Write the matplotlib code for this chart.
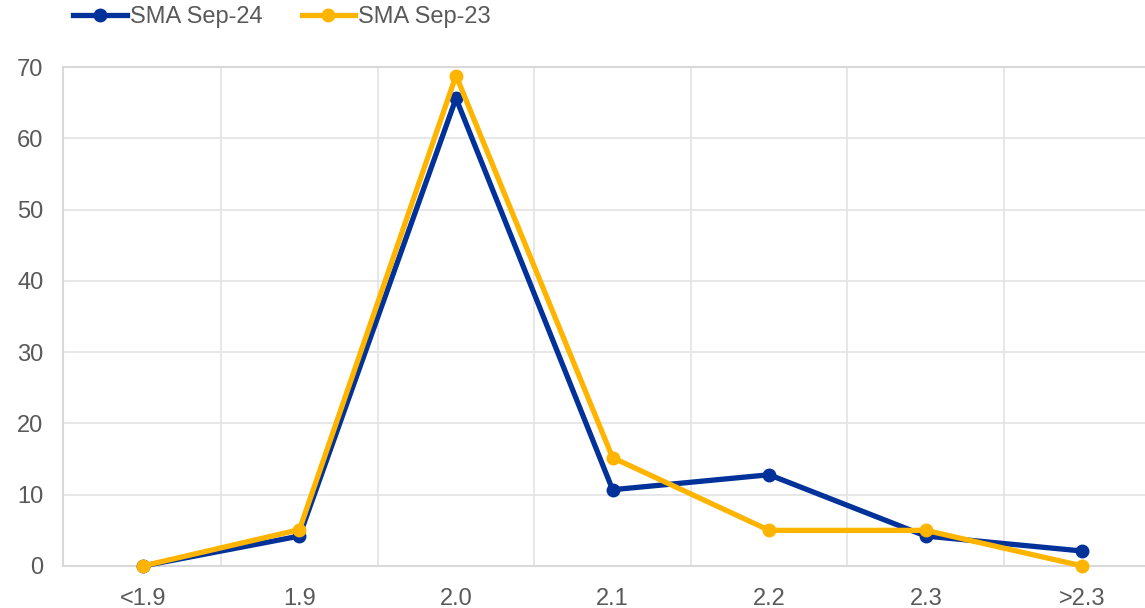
import matplotlib
matplotlib.use("Agg")
import matplotlib.pyplot as plt
from matplotlib.lines import Line2D

categories = ["<1.9", "1.9", "2.0", "2.1", "2.2", "2.3", ">2.3"]
sma_sep24 = [0.0, 4.2, 65.6, 10.7, 12.8, 4.2, 2.1]
sma_sep23 = [0.0, 5.1, 68.8, 15.2, 5.0, 5.0, 0.0]
yticks = [0, 10, 20, 30, 40, 50, 60, 70]

plt.rcParams['font.family'] = ['Liberation Sans', 'DejaVu Sans']

W, H = 1145, 608
fig = plt.figure(figsize=(W/100, H/100), dpi=100)
ax = fig.add_axes([63/W, (H-566)/H, (W-63)/W, (566-67)/H])

blue = "#003299"
gold = "#FFB400"
x = list(range(len(categories)))
ax.plot(x, sma_sep24, color=blue, lw=3.8, marker='o', ms=9, zorder=3, clip_on=False)
ax.plot(x, sma_sep23, color=gold, lw=3.8, marker='o', ms=9, zorder=4, clip_on=False)

ax.set_xlim(-0.51, 6.40)
ax.set_ylim(0, 70)
ax.set_yticks(yticks)
ax.set_xticks(x)
ax.set_xticklabels(categories)
ax.set_xticks([i + 0.5 for i in range(6)], minor=True)
ax.grid(axis='y', which='major', color='#E3E3E3', lw=1.2)
ax.grid(axis='x', which='minor', color='#E3E3E3', lw=1.2)
ax.tick_params(axis='both', which='both', length=0, labelsize=17, labelcolor='#595959')
ax.tick_params(axis='x', pad=16)
ax.tick_params(axis='y', pad=14)
for s in ['left', 'top']:
    ax.spines[s].set_color('#D9D9D9')
    ax.spines[s].set_linewidth(1.5)
ax.spines['bottom'].set_color('#D9D9D9')
ax.spines['bottom'].set_linewidth(1.5)
ax.spines['right'].set_visible(False)
ax.set_axisbelow(True)

handles = [Line2D([], [], color=blue, lw=3.8, marker='o', ms=9),
           Line2D([], [], color=gold, lw=3.8, marker='o', ms=9)]
fig.legend(handles, ["SMA Sep-24", "SMA Sep-23"], loc='upper left',
           bbox_to_anchor=(64/W, 1.0 + 3/H), ncol=2, frameon=False, fontsize=17,
           labelcolor='#595959', handlelength=2.25, handletextpad=0.15,
           columnspacing=1.65, borderaxespad=0.0)

fig.savefig("out.png", dpi=100)
